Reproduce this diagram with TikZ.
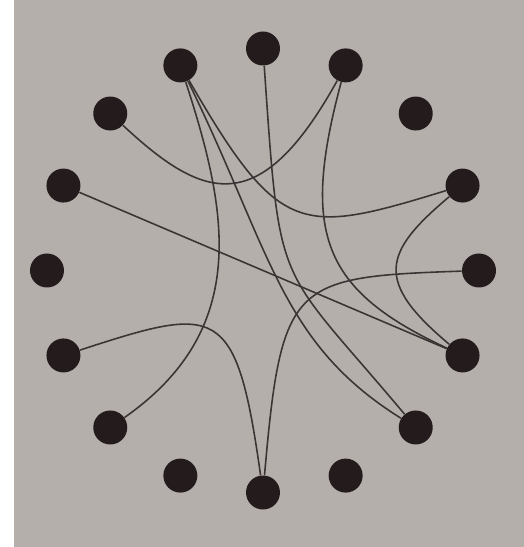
\documentclass[tikz,border=0pt]{standalone}
\usepackage{xcolor}
\usepackage{tikz}
\usetikzlibrary{positioning}

\definecolor{paper}{RGB}{181,175,172}
\definecolor{dotc}{RGB}{36,28,28}
\definecolor{wirec}{RGB}{58,52,52}

\begin{document}
\begin{tikzpicture}[vertex/.style={circle,fill=dotc,minimum size=0.68cm,inner sep=0pt},
    every edge/.style={draw=wirec,line width=0.9pt}]
    \useasboundingbox (-5.26,-5.53) rectangle (5.22,5.41);
    \fill[white] (-5.26,-5.53) rectangle (5.22,5.41);
    \fill[paper] (-4.98,-5.53) rectangle (5.22,5.41);

    \foreach \i in {0,...,15}
        \node[vertex] (v\i) at ({90-22.5*\i}:4.32cm and 4.44cm) {};

    \path (v14) edge[out=-43,in=-119,out distance=2.2cm,in distance=3.2cm] (v1)
          (v13) edge (v5)
          (v11) edge[out=18,in=98,out distance=2.9cm,in distance=3.5cm] (v8)
          (v10) edge[out=35,in=-72,out distance=3.1cm,in distance=2.7cm] (v15)
          (v8) edge[out=85,in=182,out distance=3.9cm,in distance=3.4cm] (v4)
          (v0) edge[out=-86,in=130,out distance=4.64cm,in distance=4.03cm] (v6)
          (v15) edge[out=-64,in=148,out distance=3.82cm,in distance=2.85cm] (v6)
          (v15) edge[out=-60,in=197,out distance=3.63cm,in distance=3.04cm] (v3)
          (v1) edge[out=-105,in=155,out distance=3.14cm,in distance=2.75cm] (v5)
          (v3) edge[out=-140,in=140,out distance=1.75cm,in distance=1.95cm] (v5);
\end{tikzpicture}
\end{document}
